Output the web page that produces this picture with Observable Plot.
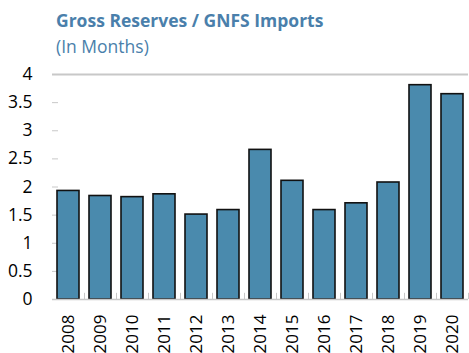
<!DOCTYPE html>
<html>
<head>
<meta charset="utf-8">
<script src="https://cdn.jsdelivr.net/npm/d3@7"></script>
<script src="https://cdn.jsdelivr.net/npm/@observablehq/plot@0.6"></script>
<style>
  body { margin: 0; background: #fff; font-family: "Open Sans", sans-serif; }
  #wrap { position: relative; width: 469px; height: 353px; overflow: hidden; }
  #title { position: absolute; left: 56px; top: 9px; font-size: 17.5px; font-weight: 700; color: #4a7fab; white-space: nowrap; line-height: 1.362; }
  #subtitle { position: absolute; left: 56px; top: 35px; font-size: 17.5px; color: #4a7fab; white-space: nowrap; line-height: 1.362; }
  #chart { position: absolute; left: 0; top: 60px; }
</style>
</head>
<body>
<div id="wrap">
  <div id="title">Gross Reserves / GNFS Imports</div>
  <div id="subtitle">(In Months)</div>
  <div id="chart"></div>
</div>
<script>
const years = ["2008","2009","2010","2011","2012","2013","2014","2015","2016","2017","2018","2019","2020"];
const values = [1.93, 1.84, 1.82, 1.87, 1.51, 1.59, 2.66, 2.11, 1.59, 1.71, 2.08, 3.81, 3.65];
const yTicks = [0, 0.5, 1, 1.5, 2, 2.5, 3, 3.5, 4];
const yTickLabels = ["0", "0.5", "1", "1.5", "2", "2.5", "3", "3.5", "4"];

const data = years.map((y, i) => ({year: y, value: values[i]}));
const W = 469, H = 293, ML = 52, MR = 1;
const gray = "#c8c8c8";

const chart = Plot.plot({
  width: W,
  height: H,
  marginLeft: ML,
  marginRight: MR,
  marginTop: 14,
  marginBottom: 54,
  style: {fontFamily: "Open Sans, sans-serif", fontSize: "17.5px", color: "#000", background: "white"},
  x: {domain: years, paddingInner: 0.32, paddingOuter: 0.15},
  y: {domain: [0, 4]},
  marks: [
    Plot.ruleY([4], {stroke: gray, strokeWidth: 2}),
    Plot.ruleY(yTicks, {stroke: gray, strokeWidth: 1, insetRight: W - ML - MR - 6}),
    Plot.ruleX(years.slice(1), {x: d => d, y1: 0, y2: 0.11, stroke: gray, strokeWidth: 1, dx: -16}),
    Plot.ruleX(years.slice(-1), {x: d => d, y1: 0, y2: 0.11, stroke: gray, strokeWidth: 1, dx: 16}),
    Plot.barY(data, {x: "year", y: "value", fill: "#4a8aad", stroke: "#111", strokeWidth: 1.6}),
    Plot.ruleY([0], {stroke: gray, strokeWidth: 1.5}),
    Plot.ruleX([0], {x: () => null, frameAnchor: "left", stroke: gray, strokeWidth: 1.5}),
    Plot.axisY({ticks: yTicks, tickFormat: d => yTickLabels[yTicks.indexOf(d)], tickSize: 0, tickPadding: 20, label: null, fontSize: 17.5}),
    Plot.axisX({tickRotate: -90, tickSize: 0, tickPadding: 15, label: null, fontSize: 17})
  ]
});
document.getElementById("chart").appendChild(chart);
</script>
</body>
</html>
